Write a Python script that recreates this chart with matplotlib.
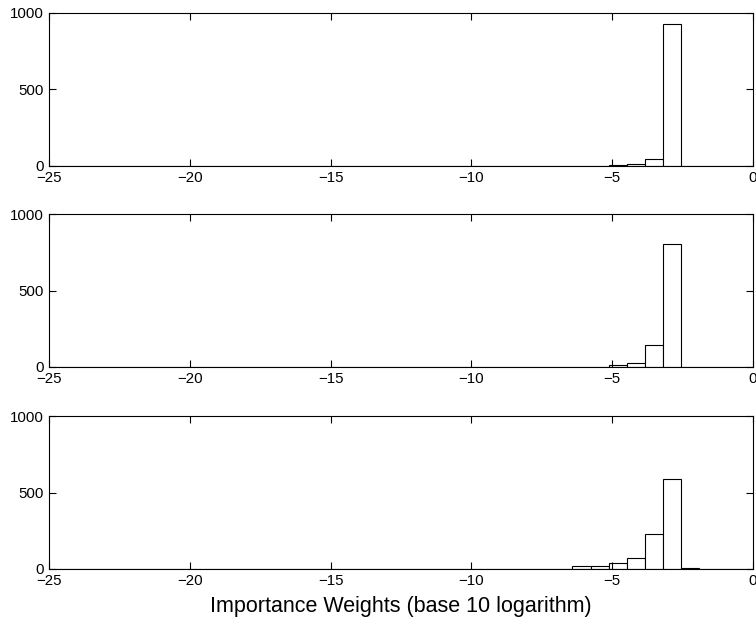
import numpy as np
import matplotlib

matplotlib.use("Agg")
import matplotlib.pyplot as plt

plt.rcParams["font.family"] = ["Liberation Sans", "DejaVu Sans"]

# 39 equal bins between -25 and 0 (log10 importance weights)
bin_lo = -25.0
bin_hi = 0.0
n_bins = 39

counts_top = [0, 0, 0, 0, 0, 0, 0, 0, 0, 0,
              0, 0, 0, 0, 0, 0, 0, 0, 0, 0,
              0, 0, 0, 0, 2, 2, 0, 1, 2, 1,
              2, 5, 13, 48, 928, 0, 0, 0, 0]
counts_mid = [0, 0, 0, 0, 0, 0, 0, 0, 0, 0,
              0, 0, 0, 1, 0, 0, 0, 0, 1, 0,
              0, 0, 0, 0, 1, 0, 1, 1, 1, 2,
              3, 11, 26, 142, 801, 0, 0, 0, 0]
counts_bot = [0, 0, 0, 0, 0, 0, 3, 0, 0, 0,
              0, 0, 0, 1, 1, 0, 1, 0, 1, 2,
              2, 2, 2, 1, 3, 3, 3, 3, 3, 22,
              17, 39, 72, 227, 590, 8, 0, 0, 0]

x_ticks = [-25, -20, -15, -10, -5, 0]
y_ticks = [0, 500, 1000]
xlabel = "Importance Weights (base 10 logarithm)"

edges = np.linspace(bin_lo, bin_hi, n_bins + 1)
width = edges[1] - edges[0]

fig = plt.figure(figsize=(7.56, 6.19), dpi=100)
W, H = 756.0, 619.0
ax_rects = [(13, 166), (214, 367), (416, 569)]

for (top_px, bot_px), counts in zip(ax_rects, [counts_top, counts_mid, counts_bot]):
    ax = fig.add_axes([49 / W, 1 - bot_px / H, 704 / W, (bot_px - top_px) / H])
    ax.bar(edges[:-1], counts, width=width, align="edge",
           facecolor="white", edgecolor="black", linewidth=0.8)
    ax.set_xlim(bin_lo, bin_hi)
    ax.set_ylim(0, 1000)
    ax.set_xticks(x_ticks)
    ax.set_yticks(y_ticks)
    ax.tick_params(direction="in", length=5, width=0.8, top=True, right=True,
                   labelsize=10.8)
    ax.tick_params(axis="x", pad=3.5)
    ax.tick_params(axis="y", pad=4)
    for spine in ax.spines.values():
        spine.set_linewidth(0.8)

ax.set_xlabel(xlabel, fontsize=15.5, labelpad=6)

fig.savefig("out.png", dpi=100)
